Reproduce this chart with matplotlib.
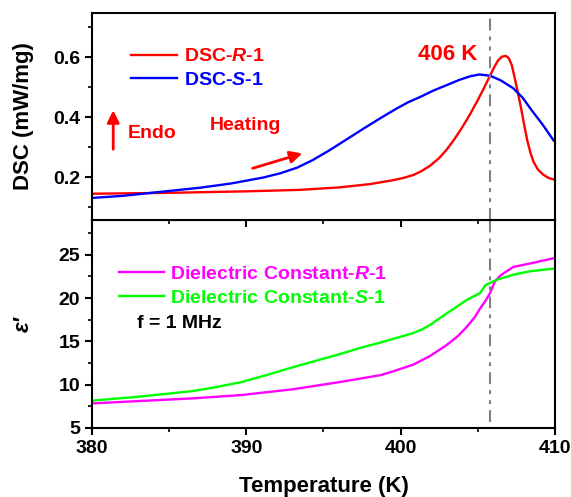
import matplotlib
matplotlib.use("Agg")
import matplotlib.pyplot as plt
from matplotlib.ticker import MultipleLocator

plt.rcParams['font.family'] = ['Liberation Sans', 'DejaVu Sans']
plt.rcParams['font.weight'] = 'bold'
plt.rcParams['mathtext.fontset'] = 'custom'
plt.rcParams['mathtext.rm'] = 'Liberation Sans:bold'
plt.rcParams['mathtext.bf'] = 'Liberation Sans:bold'
plt.rcParams['mathtext.bfit'] = 'Liberation Sans:bold:italic'
plt.rcParams['mathtext.it'] = 'Liberation Sans:bold:italic'

# DSC data
t_dsc_r = [380, 385, 390, 393.5, 396, 398, 399.5, 400.2, 400.8, 401.3, 401.9, 402.5,
           403.0, 403.5, 404.0, 404.5, 405.0, 405.4, 405.75, 406.05, 406.3, 406.55,
           406.8, 407.0, 407.2, 407.4, 407.6, 407.8, 408.0, 408.2, 408.4, 408.6,
           408.9, 409.25, 409.6, 410]
dsc_r = [0.145, 0.148, 0.153, 0.158, 0.166, 0.177, 0.19, 0.198, 0.207, 0.219, 0.238, 0.264,
         0.293, 0.328, 0.367, 0.41, 0.457, 0.497, 0.534, 0.565, 0.588, 0.601,
         0.604, 0.597, 0.573, 0.528, 0.48, 0.43, 0.375, 0.323, 0.283, 0.252,
         0.225, 0.208, 0.197, 0.192]

t_dsc_s = [380, 382, 384.4, 387, 389, 391.1, 392.2, 393.3, 394.3, 395.4, 396.5, 397.6, 398.7,
           399.75, 400.5, 401.3, 402.1, 403, 403.8, 404.5, 405.1, 405.8, 406.5, 407.3,
           407.9, 408.4, 409.2, 409.9, 410]
dsc_s = [0.131, 0.138, 0.151, 0.165, 0.179, 0.199, 0.213, 0.232, 0.257, 0.29, 0.326, 0.362, 0.397,
         0.429, 0.45, 0.468, 0.488, 0.507, 0.524, 0.536, 0.542, 0.538, 0.522, 0.496,
         0.465, 0.429, 0.375, 0.323, 0.318]

# dielectric constant data
t_eps_r = [380, 383, 386.5, 389.7, 393, 396.2, 398.7, 399.45, 400.8, 401.9, 403, 403.7,
           404.3, 404.8, 405.15, 405.5, 405.8, 406.1, 406.4, 406.7, 407.3, 408.4,
           409.9, 410]
eps_r = [7.83, 8.1, 8.41, 8.8, 9.46, 10.34, 11.1, 11.5, 12.3, 13.3, 14.6, 15.6,
         16.7, 17.8, 18.8, 19.7, 20.6, 21.9, 22.5, 22.9, 23.6, 24.0,
         24.6, 24.65]

t_eps_s = [380, 383, 386.5, 388, 389.7, 391.3, 393, 396.2, 397.5, 398.66, 399.45, 400.8,
           401.4, 401.9, 403, 404.3, 405.15, 405.5, 406.2, 407.3, 408.4, 409.9, 410]
eps_s = [8.15, 8.6, 9.25, 9.7, 10.3, 11.1, 12.0, 13.6, 14.3, 14.85, 15.25, 15.95,
         16.4, 16.9, 18.25, 19.8, 20.6, 21.5, 22.1, 22.7, 23.1, 23.4, 23.4]

t_c = 405.8

fig = plt.figure(figsize=(5.71, 4.97), dpi=100)
ax1 = fig.add_axes([0.161, 0.557, 0.811, 0.417])
ax2 = fig.add_axes([0.161, 0.139, 0.811, 0.418], sharex=ax1)
ax2.patch.set_visible(False)
ax1.set_zorder(2)

dashdotdot = (0, (5.7, 2.9, 1.9, 2.9, 1.9, 2.9))

# top panel
ax1.plot(t_dsc_r, dsc_r, color='#ff0000', lw=1.7, label='DSC-$\\mathbfit{R}$-1')
ax1.plot(t_dsc_s, dsc_s, color='#0000ff', lw=1.7, label='DSC-$\\mathbfit{S}$-1')
ax1.axvline(t_c, color='#808080', lw=1.5, ls=dashdotdot)
ax1.set_xlim(380, 410)
ax1.set_ylim(0.057, 0.747)
ax1.yaxis.set_major_locator(MultipleLocator(0.2))
ax1.yaxis.set_minor_locator(MultipleLocator(0.1))
ax1.set_ylabel('DSC (mW/mg)', fontsize=16, fontweight='bold')
ax1.yaxis.set_label_coords(-0.125, 0.5)
ax1.tick_params(axis='x', bottom=True, labelbottom=False)
ax1.legend(loc='upper left', bbox_to_anchor=(0.084, 0.832), frameon=False, fontsize=14,
           handlelength=2.35, handletextpad=0.4, labelspacing=0.3, borderpad=0,
           borderaxespad=0, labelcolor='linecolor')

ax1.text(405.0, 0.607, '406 K', color='#ff0000', fontsize=16, ha='right', va='center')
ax1.text(382.3, 0.347, 'Endo', color='#ff0000', fontsize=14, ha='left', va='center')
ax1.text(387.65, 0.373, 'Heating', color='#ff0000', fontsize=14, ha='left', va='center')
ax1.annotate('', xy=(381.38, 0.432), xytext=(381.38, 0.284),
             arrowprops=dict(arrowstyle='-|>', color='#ff0000', lw=2, mutation_scale=18))
ax1.annotate('', xy=(393.8, 0.282), xytext=(390.24, 0.227),
             arrowprops=dict(arrowstyle='-|>', color='#ff0000', lw=2, mutation_scale=18))

# bottom panel
ax2.plot(t_eps_r, eps_r, color='#ff00ff', lw=1.7, label='Dielectric Constant-$\\mathbfit{R}$-1')
ax2.plot(t_eps_s, eps_s, color='#00ff00', lw=1.7, label='Dielectric Constant-$\\mathbfit{S}$-1')
ax2.axvline(t_c, ymin=0.03, color='#808080', lw=1.5, ls=dashdotdot)
ax2.set_ylim(5, 29)
ax2.yaxis.set_major_locator(MultipleLocator(5))
ax2.yaxis.set_minor_locator(MultipleLocator(2.5))
ax2.xaxis.set_major_locator(MultipleLocator(10))
ax2.xaxis.set_minor_locator(MultipleLocator(5))
ax2.set_ylabel('ε′', fontsize=16, fontweight='bold', fontstyle='italic')
ax2.yaxis.set_label_coords(-0.125, 0.5)
ax2.set_xlabel('Temperature (K)', fontsize=16, fontweight='bold', labelpad=14)
ax2.legend(loc='upper left', bbox_to_anchor=(0.058, 0.782), frameon=False, fontsize=14,
           handlelength=2.35, handletextpad=0.3, labelspacing=0.3, borderpad=0,
           borderaxespad=0, labelcolor='linecolor')
ax2.text(382.9, 17.1, 'f = 1 MHz', color='black', fontsize=14, ha='left', va='center')

for ax in (ax1, ax2):
    for sp in ax.spines.values():
        sp.set_linewidth(1.5)
    ax.tick_params(which='major', direction='out', length=5, width=1.5, labelsize=14,
                   top=False, right=False)
    ax.tick_params(which='minor', direction='out', length=3, width=1.2,
                   top=False, right=False)

fig.savefig('out.png', dpi=100)
